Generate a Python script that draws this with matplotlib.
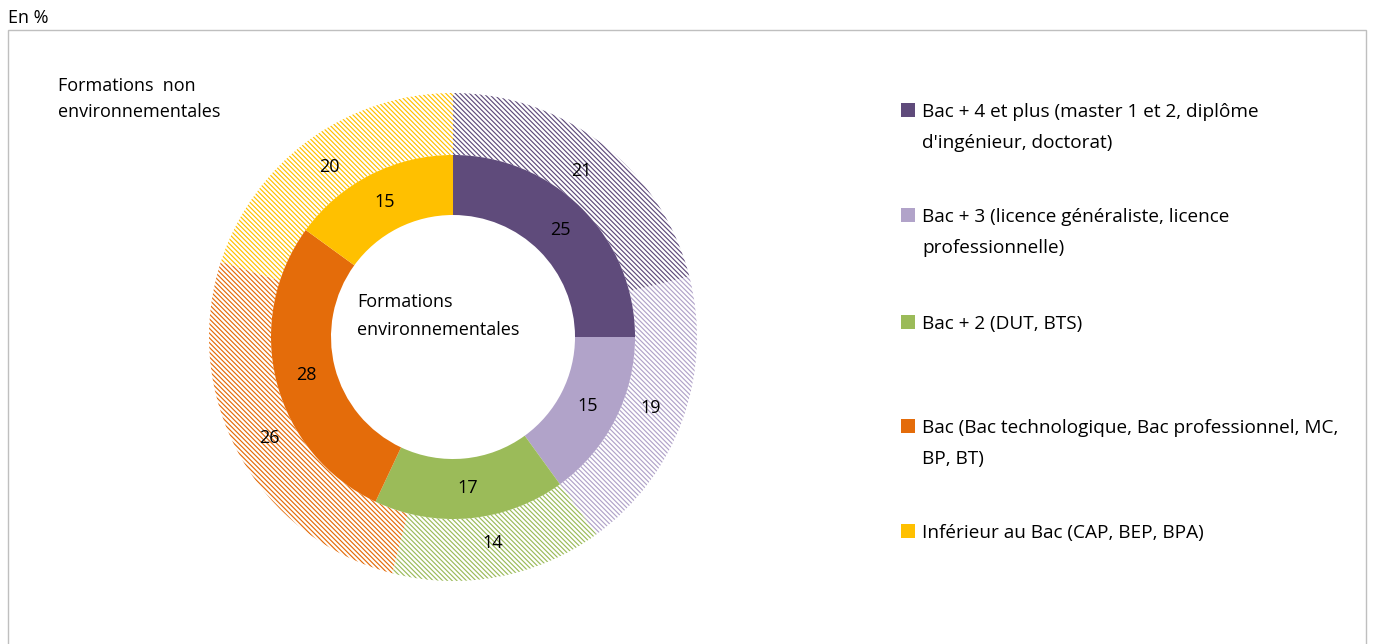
import numpy as np
import matplotlib.pyplot as plt
from matplotlib.patches import Rectangle

plt.rcParams['font.family'] = ['Open Sans', 'DejaVu Sans']
plt.rcParams['hatch.linewidth'] = 0.85

categories = [
    "Bac + 4 et plus (master 1 et 2, diplôme\nd'ingénieur, doctorat)",
    "Bac + 3 (licence généraliste, licence\nprofessionnelle)",
    "Bac + 2 (DUT, BTS)",
    "Bac (Bac technologique, Bac professionnel, MC,\nBP, BT)",
    "Inférieur au Bac (CAP, BEP, BPA)",
]
colors = ['#5F4B7B', '#B1A3C9', '#9BBB59', '#E46C0A', '#FFC000']
env = [25, 15, 17, 28, 15]        # formations environnementales (anneau intérieur)
non_env = [21, 19, 14, 26, 20]    # formations non environnementales (anneau extérieur)

fig = plt.figure(figsize=(13.74, 6.44), dpi=100)
ax = fig.add_axes([0.1521, 0.0978, 0.3552, 0.7578])

# anneau extérieur hachuré
outer, _ = ax.pie(non_env, radius=1.0, startangle=90, counterclock=False,
                  colors=['white'] * 5, wedgeprops=dict(width=0.254, linewidth=0))
for w, c in zip(outer, colors):
    w.set_hatch('\\' * 7)
    w.set_edgecolor(c)
    w.set_linewidth(0)

# anneau intérieur plein
inner, _ = ax.pie(env, radius=0.746, startangle=90, counterclock=False,
                  colors=colors, wedgeprops=dict(width=0.246, linewidth=0))


def put_labels(values, r):
    start = 90.0
    total = sum(values)
    for v in values:
        mid = start - v / total * 360 / 2
        a = np.deg2rad(mid)
        ax.text(r * np.cos(a), r * np.sin(a), str(v), ha='center', va='center',
                fontsize=13, color='black')
        start -= v / total * 360


put_labels(env, 0.62)
put_labels(non_env, 0.86)

ax.set_xlim(-1, 1)
ax.set_ylim(-1, 1)
ax.set_aspect('equal')
ax.axis('off')

fig.text(58 / 1374, 1 - 99 / 644, "Formations  non\nenvironnementales", fontsize=13,
         ha='left', va='center', linespacing=1.6)
fig.text(357 / 1374, 1 - 316 / 644, "Formations\nenvironnementales", fontsize=13,
         ha='left', va='center', linespacing=1.7)
fig.text(8 / 1374, 1 - 18 / 644, "En %", fontsize=13, ha='left', va='center')

fig.add_artist(Rectangle((8 / 1374, -0.01), 1358 / 1374, 1 - 30 / 644 + 0.01,
                         transform=fig.transFigure, fill=False,
                         edgecolor='#BFBFBF', linewidth=1))

# légende
item_y = [110, 215, 322, 426, 531]
for lab, c, y in zip(categories, colors, item_y):
    fig.add_artist(Rectangle((901 / 1374, 1 - (y + 7) / 644), 14 / 1374, 14 / 644,
                             transform=fig.transFigure, facecolor=c, edgecolor='none'))
    fig.text(922 / 1374, 1 - (y - 7) / 644, lab, fontsize=13.7, ha='left', va='top',
             linespacing=1.95)

fig.savefig('out.png', dpi=100)
